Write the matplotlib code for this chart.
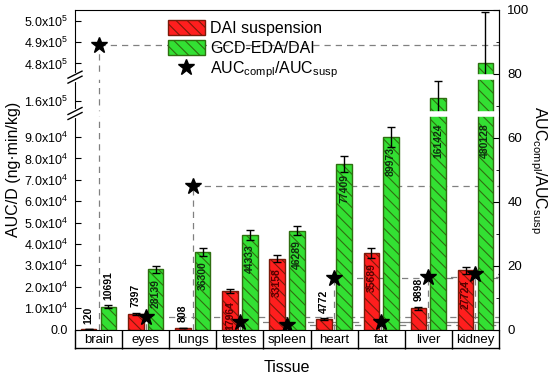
import numpy as np
import matplotlib
matplotlib.use("Agg")
import matplotlib.pyplot as plt
import matplotlib.transforms as mtransforms
from matplotlib.patches import Patch
from matplotlib.lines import Line2D

plt.rcParams["font.family"] = ["Liberation Sans", "DejaVu Sans"]
plt.rcParams["mathtext.fontset"] = "custom"
plt.rcParams["mathtext.rm"] = "Liberation Sans"
plt.rcParams["mathtext.it"] = "Liberation Sans:italic"
plt.rcParams["mathtext.bf"] = "Liberation Sans:bold"
plt.rcParams["hatch.linewidth"] = 0.8

# data
tissues = ["brain", "eyes", "lungs", "testes", "spleen", "heart", "fat", "liver", "kidney"]
auc_susp = [120, 7397, 808, 17964, 33158, 4772, 35689, 9898, 27724]
auc_susp_err = [60, 400, 100, 1000, 1500, 400, 2200, 700, 1700]
auc_compl = [10691, 28139, 36300, 44333, 46289, 77409, 89973, 161424, 480128]
auc_compl_err = [600, 1600, 1900, 2300, 2300, 3900, 4500, 8000, 24000]
ratio = [89.1, 3.8, 44.9, 2.5, 1.4, 16.2, 2.5, 16.3, 17.3]

left_ticks = [0, 1e4, 2e4, 3e4, 4e4, 5e4, 6e4, 7e4, 8e4, 9e4, 1.6e5, 4.8e5, 4.9e5, 5.0e5]
right_ticks = [0, 20, 40, 60, 80, 100]

# broken left axis: value breakpoints and their compressed positions
brk_val = np.array([0, 1.01e5, 1.54e5, 1.71e5, 4.736e5, 5.05e5])
brk_pos = np.array([0, 1.01e5, 1.01e5 + 1, 1.18e5, 1.18e5 + 1, 1.494e5])
y_top = brk_val[-1]


def fwd(v):
    v = np.asarray(v, dtype=float)
    inside = np.interp(v, brk_val, brk_pos)
    return np.where(v < 0, v, np.where(v > y_top, brk_pos[-1] + (v - y_top), inside))


def inv(u):
    u = np.asarray(u, dtype=float)
    inside = np.interp(u, brk_pos, brk_val)
    return np.where(u < 0, u, np.where(u > brk_pos[-1], y_top + (u - brk_pos[-1]), inside))


def sci_label(v):
    if v == 0:
        return "0.0"
    e = int(np.floor(np.log10(v)))
    return r"%.1fx10$^{\mathrm{%d}}$" % (v / 10 ** e, e)


red = "#ff1e1e"
red_edge = "#7a1a0a"
green = "#33e033"
green_edge = "#2e6e10"
hatch = "\\\\\\"
off = 0.21
w = 0.33

fig = plt.figure(figsize=(5.5, 3.75), dpi=100)
ax = fig.add_axes([75 / 550, 1 - 329.5 / 375, 424 / 550, 319.5 / 375])
ax.set_yscale("function", functions=(fwd, inv))
ax2 = ax.twinx()

x = np.arange(len(tissues))

ax.bar(x - off, auc_susp, width=w, color=red, edgecolor=red_edge, hatch=hatch, linewidth=1, zorder=2)
ax.bar(x + off, auc_compl, width=w, color=green, edgecolor=green_edge, hatch=hatch, linewidth=1, zorder=2)
ax.errorbar(x - off, auc_susp, yerr=auc_susp_err, fmt="none", ecolor="k", elinewidth=1, capsize=3, capthick=1, zorder=3)
ax.errorbar(x + off, auc_compl, yerr=auc_compl_err, fmt="none", ecolor="k", elinewidth=1, capsize=3, capthick=1, zorder=3)

# value labels
for xs, vals, errs, dark in [(x - off, auc_susp, auc_susp_err, "#5a0000"), (x + off, auc_compl, auc_compl_err, "#0f300f")]:
    for xi, v, e in zip(xs, vals, errs):
        if v < 15000:
            ax.annotate(str(v), (xi, v + e), xytext=(0, 4), textcoords="offset points", rotation=90,
                        ha="center", va="bottom", fontsize=7.5, fontweight="bold", color="k", zorder=6)
        else:
            ax.annotate(str(v), (xi, min(v, brk_val[1])), xytext=(0, -7), textcoords="offset points", rotation=90,
                        ha="center", va="top", fontsize=7.5, fontweight="bold", color=dark, zorder=6)

# drop lines from the ratio stars (x from bottom axes, y from right axes)
blend = mtransforms.blended_transform_factory(ax.transData, ax2.transData)
for xi, r in zip(x, ratio):
    ax.plot([xi, xi], [0, r], transform=blend, color="#808080", lw=0.9, ls=(0, (5, 4)), zorder=1)
    ax.plot([xi, len(tissues) - 0.5], [r, r], transform=blend, color="#808080", lw=0.9, ls=(0, (5, 4)), zorder=1)
ax2.plot(x, ratio, ls="none", marker="*", ms=12, color="k", zorder=5)

# white gaps where the bars cross the breaks
for b in [brk_val[1], brk_val[3]]:
    ax.axhline(b, color="white", lw=4, zorder=4)

ax.set_xlim(-0.5, len(tissues) - 0.5)
ax.set_ylim(0, y_top)
ax2.set_ylim(0, 100)

ax.set_yticks(left_ticks)
ax.set_yticklabels([sci_label(v) for v in left_ticks])
ax.yaxis.set_minor_locator(matplotlib.ticker.NullLocator())
ax.tick_params(axis="y", direction="in", length=4, labelsize=9, pad=5)

ax2.set_yticks(right_ticks)
ax2.set_yticks([10, 30, 50, 70, 90], minor=True)
ax2.tick_params(axis="y", which="major", direction="in", length=4, labelsize=9.5, pad=6)
ax2.tick_params(axis="y", which="minor", direction="in", length=2)
for s in ["left", "top", "bottom"]:
    ax2.spines[s].set_visible(False)

# category boxes under the axis
ax.set_xticks(x)
ax.set_xticklabels(tissues)
ax.set_xticks(np.arange(-0.5, len(tissues)), minor=True)
ax.tick_params(axis="x", which="major", length=0, labelsize=9.5, pad=3)
ax.tick_params(axis="x", which="minor", direction="out", length=13.5, width=1)
box_bottom = -18.8 / 319.5
ax.plot([-0.5, len(tissues) - 0.5], [box_bottom, box_bottom], transform=ax.get_xaxis_transform(),
        color="k", lw=1, clip_on=False)

# break marks on the left spine
for b in [brk_val[1], brk_val[3]]:
    yb = float(fwd(b) / fwd(y_top))
    dx, dy, gap = 7 / 424, 3.5 / 319.5, 2.5 / 319.5
    ax.plot([0, 0], [yb - gap, yb + gap], transform=ax.transAxes, color="white", lw=3, clip_on=False, zorder=6)
    for g in [-gap, gap]:
        ax.plot([-dx, dx], [yb + g - dy, yb + g + dy], transform=ax.transAxes, color="k", lw=1,
                clip_on=False, zorder=7)

ax.set_xlabel("Tissue", fontsize=11.5, labelpad=5)
ax.set_ylabel("AUC/D (ng\u00b7min/kg)", fontsize=11.5, labelpad=2)
ax2.set_ylabel(r"AUC$_{\mathrm{compl}}$/AUC$_{\mathrm{susp}}$", fontsize=11.5, rotation=270, labelpad=14)

handles = [
    Patch(facecolor=red, edgecolor=red_edge, hatch=hatch, label="DAI suspension"),
    Patch(facecolor=green, edgecolor=green_edge, hatch=hatch, label="GCD-EDA/DAI"),
    Line2D([], [], ls="none", marker="*", ms=12, color="k", label=r"AUC$_{\mathrm{compl}}$/AUC$_{\mathrm{susp}}$"),
]
ax2.legend(handles=handles, loc="upper left", bbox_to_anchor=((168 - 75) / 424, (329.5 - 20) / 319.5),
           frameon=False, fontsize=11.5, borderpad=0, handlelength=2.3, handleheight=1.05,
           labelspacing=0.25, handletextpad=0.35, borderaxespad=0)

fig.savefig("out.png", dpi=100)
